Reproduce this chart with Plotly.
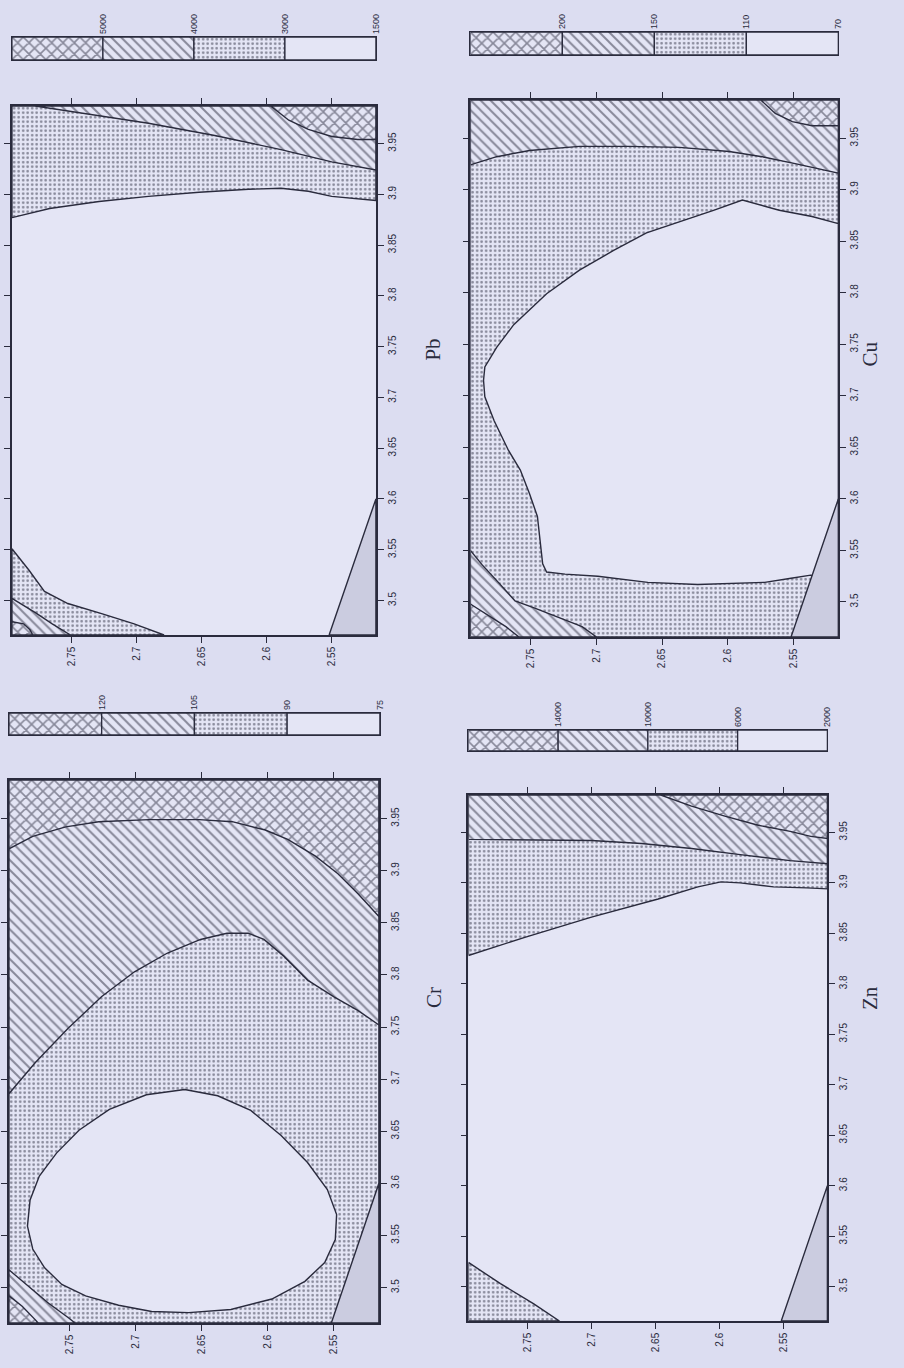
import plotly.graph_objects as go

W, H = 904, 1368
INK = "#2a2b3d"
PAPER = "#dcddf1"
PANEL = "#e4e5f5"
MASKC = "#cbcce0"

# ---------------- axes (data values) ----------------
X_LO, X_HI = 3.466, 3.987          # plotted vertically
Y_LEFT, Y_RIGHT = 2.796, 2.516     # plotted horizontally (reversed)
X_TICKS = [3.5, 3.55, 3.6, 3.65, 3.7, 3.75, 3.8, 3.85, 3.9, 3.95]
X_TICKTEXT = ["3.5", "3.55", "3.6", "3.65", "3.7", "3.75", "3.8", "3.85", "3.9", "3.95"]
Y_TICKS = [2.75, 2.7, 2.65, 2.6, 2.55]
Y_TICKTEXT = ["2.75", "2.7", "2.65", "2.6", "2.55"]

# no-data mask (lower right corner)
MASK_Y0 = 2.552
MASK_X1 = 3.60

# ---------------- legend levels ----------------
PB_LEVELS = ["5000", "4000", "3000", "1500"]
CU_LEVELS = ["200", "150", "110", "70"]
CR_LEVELS = ["120", "105", "90", "75"]
ZN_LEVELS = ["14000", "10000", "6000", "2000"]

# ---------------- contour boundaries (Y, X) ----------------
# Pb
PB_3000 = [(2.796, 3.877), (2.767, 3.886), (2.729, 3.893), (2.691, 3.898), (2.652, 3.902),
           (2.614, 3.905), (2.589, 3.906), (2.568, 3.903), (2.550, 3.898), (2.516, 3.894)]
PB_4000 = [(2.778, 3.987), (2.742, 3.980), (2.691, 3.970), (2.640, 3.958), (2.589, 3.944),
           (2.550, 3.932), (2.516, 3.924)]
PB_5000 = [(2.597, 3.987), (2.583, 3.973), (2.568, 3.964), (2.550, 3.957), (2.530, 3.954),
           (2.516, 3.954)]
PB_3000_LOW = [(2.796, 3.551), (2.783, 3.530), (2.771, 3.509), (2.753, 3.497), (2.727, 3.487),
               (2.702, 3.477), (2.679, 3.466)]
PB_4000_LOW = [(2.796, 3.502), (2.778, 3.488), (2.765, 3.477), (2.751, 3.466)]
PB_5000_LOW = [(2.796, 3.479), (2.787, 3.477), (2.782, 3.471), (2.780, 3.466)]

# Cu
CU_110_LOOP = [(2.516, 3.867), (2.536, 3.874), (2.561, 3.880), (2.589, 3.890), (2.611, 3.880),
               (2.637, 3.869), (2.662, 3.858), (2.687, 3.841), (2.713, 3.822), (2.738, 3.799),
               (2.763, 3.769), (2.776, 3.747), (2.785, 3.728), (2.786, 3.715), (2.785, 3.699),
               (2.778, 3.676), (2.767, 3.647), (2.758, 3.628), (2.751, 3.605), (2.745, 3.583),
               (2.743, 3.557), (2.741, 3.537), (2.738, 3.529), (2.724, 3.527), (2.699, 3.525),
               (2.661, 3.519), (2.623, 3.517), (2.598, 3.518), (2.572, 3.519), (2.552, 3.523),
               (2.537, 3.526), (2.516, 3.520)]
CU_150 = [(2.796, 3.924), (2.776, 3.932), (2.751, 3.938), (2.713, 3.942), (2.675, 3.942),
          (2.637, 3.941), (2.599, 3.937), (2.574, 3.932), (2.548, 3.925), (2.516, 3.916)]
CU_200 = [(2.575, 3.987), (2.564, 3.974), (2.551, 3.966), (2.536, 3.962), (2.516, 3.962)]
CU_150_LOW = [(2.796, 3.550), (2.787, 3.536), (2.774, 3.518), (2.762, 3.501), (2.747, 3.494),
              (2.729, 3.485), (2.711, 3.476), (2.700, 3.466)]
CU_200_LOW = [(2.796, 3.498), (2.782, 3.487), (2.769, 3.476), (2.759, 3.466)]

# Cr
CR_90_LOOP = [(2.663, 3.690), (2.638, 3.684), (2.613, 3.670), (2.590, 3.646), (2.570, 3.620),
              (2.555, 3.594), (2.548, 3.570), (2.549, 3.546), (2.557, 3.524), (2.572, 3.506),
              (2.597, 3.489), (2.628, 3.479), (2.660, 3.476), (2.688, 3.477), (2.713, 3.483),
              (2.738, 3.492), (2.756, 3.503), (2.769, 3.519), (2.778, 3.537), (2.782, 3.559),
              (2.780, 3.584), (2.773, 3.607), (2.760, 3.629), (2.743, 3.651), (2.720, 3.671),
              (2.692, 3.685)]
CR_105 = [(2.796, 3.686), (2.776, 3.716), (2.751, 3.749), (2.726, 3.779), (2.701, 3.803),
          (2.676, 3.821), (2.651, 3.834), (2.631, 3.840), (2.615, 3.840), (2.603, 3.834),
          (2.588, 3.818), (2.570, 3.795), (2.550, 3.779), (2.532, 3.766), (2.516, 3.752)]
CR_120 = [(2.796, 3.921), (2.778, 3.933), (2.753, 3.942), (2.728, 3.947), (2.690, 3.949),
          (2.652, 3.949), (2.627, 3.947), (2.602, 3.939), (2.585, 3.930), (2.564, 3.914),
          (2.547, 3.897), (2.532, 3.878), (2.516, 3.856)]
CR_105_LOW = [(2.796, 3.517), (2.781, 3.501), (2.766, 3.485), (2.751, 3.471), (2.746, 3.466)]
CR_120_LOW = [(2.796, 3.492), (2.786, 3.482), (2.776, 3.469), (2.774, 3.466)]

# Zn
ZN_6000 = [(2.796, 3.828), (2.752, 3.846), (2.700, 3.866), (2.648, 3.884), (2.617, 3.896),
           (2.599, 3.901), (2.584, 3.900), (2.558, 3.896), (2.532, 3.895), (2.516, 3.894)]
ZN_10000 = [(2.796, 3.943), (2.700, 3.942), (2.661, 3.939), (2.622, 3.934), (2.584, 3.928),
            (2.545, 3.922), (2.516, 3.919)]
ZN_14000 = [(2.646, 3.987), (2.622, 3.976), (2.596, 3.966), (2.570, 3.957), (2.545, 3.951),
            (2.529, 3.946), (2.516, 3.944)]
ZN_6000_LOW = [(2.796, 3.524), (2.771, 3.503), (2.745, 3.483), (2.725, 3.466)]

# ---------------- styling helpers ----------------
PATTERNS = {
    "dots": dict(shape=".", size=4.5, solidity=0.28),
    "hatch": dict(shape="\\", size=7, solidity=0.28),
    "cross": dict(shape="x", size=8, solidity=0.36),
    "blank": None,
}

TOP = [(Y_RIGHT, X_HI), (Y_LEFT, X_HI)]       # close edge-to-edge curve upwards
TOPRIGHT = [(Y_RIGHT, X_HI)]                   # close curve cutting top-right corner
BOTLEFT = [(Y_LEFT, X_LO)]                     # close curve cutting bottom-left corner
FULL = [(Y_LEFT, X_LO), (Y_RIGHT, X_LO), (Y_RIGHT, X_HI), (Y_LEFT, X_HI)]
LW = 1.4


def region(curve, corners, style, ax):
    pts = list(curve) + list(corners)
    ys = [p[0] for p in pts] + [pts[0][0]]
    xs = [p[1] for p in pts] + [pts[0][1]]
    kw = dict(x=ys, y=xs, mode="lines", fill="toself", fillcolor=PANEL,
              line=dict(color=INK, width=LW), hoverinfo="skip", showlegend=False,
              xaxis="x" + ax, yaxis="y" + ax)
    pat = PATTERNS[style]
    if pat is not None:
        kw["fillpattern"] = dict(fgcolor=INK, bgcolor=PANEL, **pat)
    return go.Scatter(**kw)


def mask(ax):
    pts = [(MASK_Y0, X_LO), (Y_RIGHT, X_LO), (Y_RIGHT, MASK_X1), (MASK_Y0, X_LO)]
    return go.Scatter(x=[p[0] for p in pts], y=[p[1] for p in pts], mode="lines",
                      fill="toself", fillcolor=MASKC, line=dict(color=INK, width=LW),
                      hoverinfo="skip", showlegend=False, xaxis="x" + ax, yaxis="y" + ax)


# panel pixel boxes: (left, top, right, bottom)
PANEL_BOX = {"1": (12, 106, 378, 635), "2": (473, 100, 843, 637),
             "3": (9, 780, 381, 1323), "4": (471, 795, 832, 1321)}
BAR_BOX = {"5": (12, 37, 378, 60), "6": (473, 32, 843, 55),
           "7": (9, 713, 382, 735), "8": (471, 730, 832, 751)}
TITLES = [("Pb", 435, 337), ("Cu", 889, 340), ("Cr", 436, 1010), ("Zn", 889, 1012)]


def dom(box):
    l, t, r, b = box
    return [l / W, r / W], [1 - b / H, 1 - t / H]


traces = []
# Pb (panel 1)
traces += [region(PB_3000, TOP, "dots", ""), region(PB_4000, TOPRIGHT, "hatch", ""),
           region(PB_5000, TOPRIGHT, "cross", ""),
           region(PB_3000_LOW, BOTLEFT, "dots", ""), region(PB_4000_LOW, BOTLEFT, "hatch", ""),
           region(PB_5000_LOW, BOTLEFT, "cross", ""), mask("")]
# Cu (panel 2)
traces += [region(FULL, [], "dots", "2"), region(CU_110_LOOP, [], "blank", "2"),
           region(CU_150, TOP, "hatch", "2"), region(CU_200, TOPRIGHT, "cross", "2"),
           region(CU_150_LOW, BOTLEFT, "hatch", "2"), region(CU_200_LOW, BOTLEFT, "cross", "2"),
           mask("2")]
# Cr (panel 3)
traces += [region(FULL, [], "dots", "3"), region(CR_90_LOOP, [], "blank", "3"),
           region(CR_105, TOP, "hatch", "3"), region(CR_120, TOP, "cross", "3"),
           region(CR_105_LOW, BOTLEFT, "hatch", "3"), region(CR_120_LOW, BOTLEFT, "cross", "3"),
           mask("3")]
# Zn (panel 4)
traces += [region(ZN_6000, TOP, "dots", "4"), region(ZN_10000, TOP, "hatch", "4"),
           region(ZN_14000, TOPRIGHT, "cross", "4"), region(ZN_6000_LOW, BOTLEFT, "dots", "4"),
           mask("4")]

# legend bars
BAR_STYLES = ["cross", "hatch", "dots", "blank"]
for ax in ["5", "6", "7", "8"]:
    shapes = [PATTERNS[s]["shape"] if PATTERNS[s] else "" for s in BAR_STYLES]
    sizes = [PATTERNS[s]["size"] if PATTERNS[s] else 8 for s in BAR_STYLES]
    sol = [PATTERNS[s]["solidity"] if PATTERNS[s] else 0.2 for s in BAR_STYLES]
    traces.append(go.Bar(orientation="h", x=[1, 1, 1, 1], y=[0, 0, 0, 0], base=[0, 1, 2, 3],
                         width=1, showlegend=False, hoverinfo="skip",
                         marker=dict(color=PANEL, line=dict(color=INK, width=1.3),
                                     pattern=dict(shape=shapes, size=sizes, solidity=sol,
                                                  fgcolor=INK, bgcolor=PANEL)),
                         xaxis="x" + ax, yaxis="y" + ax))

fig = go.Figure(data=traces)

tickfont = dict(family="Liberation Sans", size=10, color=INK)
layout = dict(width=W, height=H, margin=dict(l=0, r=0, t=0, b=0),
              paper_bgcolor=PAPER, plot_bgcolor=PANEL, barmode="overlay", showlegend=False)

for ax, box in PANEL_BOX.items():
    xd, yd = dom(box)
    k = "" if ax == "1" else ax
    layout["xaxis" + k] = dict(domain=xd, range=[Y_LEFT, Y_RIGHT], anchor="y" + k,
                               tickvals=Y_TICKS, ticktext=Y_TICKTEXT, tickangle=-90,
                               ticks="outside", ticklen=6, tickcolor=INK, tickwidth=1.3,
                               showline=True, linecolor=INK, linewidth=1.6, mirror="ticks",
                               showgrid=False, zeroline=False, tickfont=tickfont)
    layout["yaxis" + k] = dict(domain=yd, range=[X_LO, X_HI], anchor="x" + k,
                               side="right", tickvals=X_TICKS, ticktext=X_TICKTEXT, tickangle=-90,
                               ticks="outside", ticklen=6, tickcolor=INK, tickwidth=1.3,
                               showline=True, linecolor=INK, linewidth=1.6, mirror="ticks",
                               showgrid=False, zeroline=False, tickfont=tickfont)

LEVELS = {"5": PB_LEVELS, "6": CU_LEVELS, "7": CR_LEVELS, "8": ZN_LEVELS}
for ax, box in BAR_BOX.items():
    xd, yd = dom(box)
    layout["xaxis" + ax] = dict(domain=xd, range=[0, 4], anchor="y" + ax, side="top",
                                tickvals=[1, 2, 3, 4], ticktext=LEVELS[ax], tickangle=-90,
                                ticks="", showline=True, linecolor=INK, linewidth=1.3,
                                mirror=True, showgrid=False, zeroline=False,
                                tickfont=dict(family="Liberation Sans", size=9, color=INK))
    layout["yaxis" + ax] = dict(domain=yd, range=[-0.5, 0.5], anchor="x" + ax,
                                showticklabels=False, ticks="", showline=True, linecolor=INK,
                                linewidth=1.3, mirror=True, showgrid=False, zeroline=False)

layout["annotations"] = [dict(text=t, x=x / W, y=1 - y / H, xref="paper", yref="paper",
                              showarrow=False, textangle=-90,
                              font=dict(family="Liberation Serif", size=21, color=INK))
                         for t, x, y in TITLES]

fig.update_layout(**layout)
fig.write_html("out.html")
